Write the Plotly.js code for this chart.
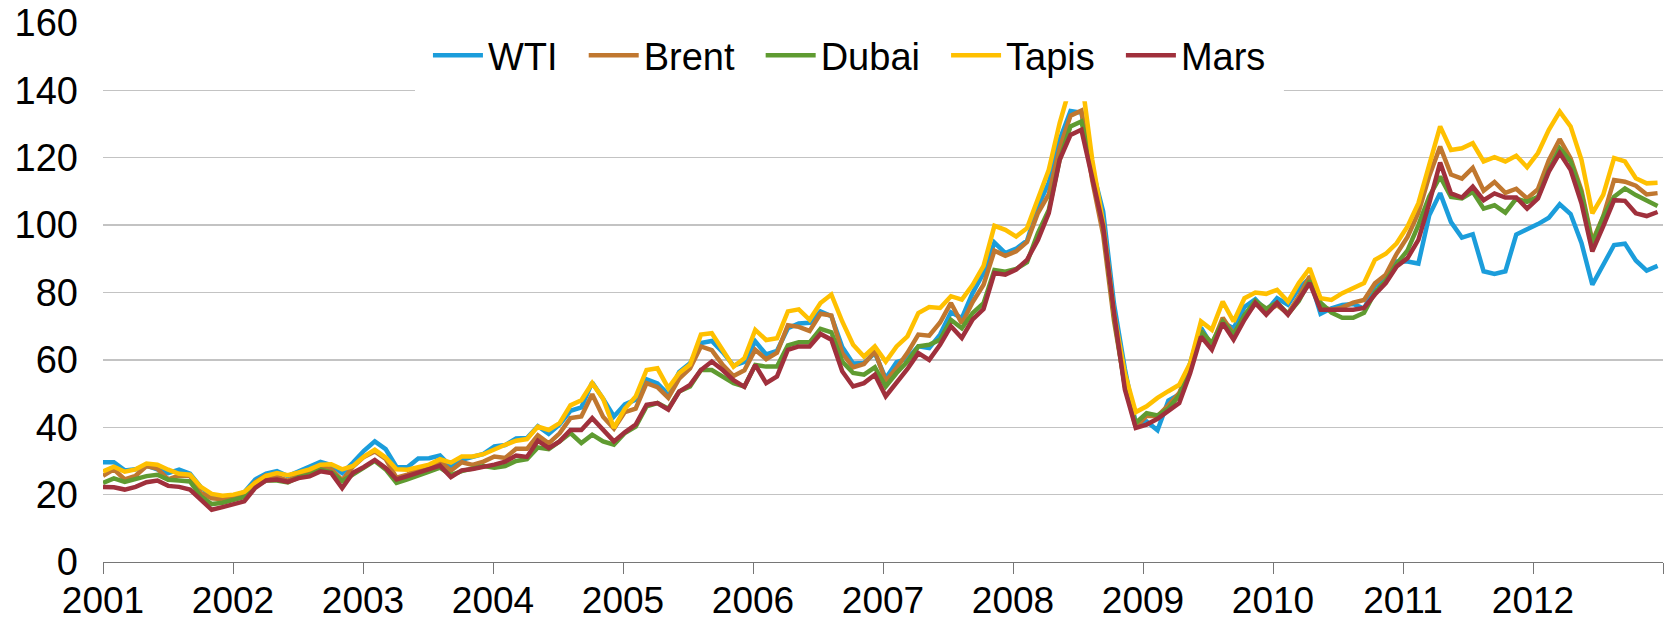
<!DOCTYPE html>
<html><head><meta charset="utf-8">
<script src="https://cdn.plot.ly/plotly-3.0.1.min.js"></script>
<style>html,body{margin:0;padding:0;background:#fff;} #chart{width:1668px;height:621px;}</style>
</head><body><div id="chart"></div>
<script>
const years = ['2001','2002','2003','2004','2005','2006','2007','2008','2009','2010','2011','2012'];
const seriesNames = ['WTI','Brent','Dubai','Tapis','Mars'];
const seriesColors = ['#1B9DDB','#C0772F','#5F9B31','#FFC000','#A0303C'];

const wti = [
29.6,29.6,27.2,27.5,28.6,27.6,26.4,27.4,26.2,22.2,19.6,19.4,
19.7,20.7,24.5,26.2,27.0,25.5,27.0,28.4,29.7,28.8,26.4,29.5,
33.0,35.8,33.5,28.2,28.1,30.7,30.8,31.6,28.3,30.3,31.1,32.1,
34.3,34.7,36.7,36.8,40.3,38.0,40.8,44.9,45.9,53.3,48.5,43.2,
46.8,48.2,54.2,53.0,49.8,56.4,59.0,65.0,65.6,62.3,58.3,59.4,
65.5,61.6,62.7,69.4,70.8,71.0,74.4,73.0,63.8,58.9,59.1,62.0,
54.5,59.3,60.4,64.0,63.5,67.5,74.1,72.4,79.9,85.8,94.8,91.7,
93.0,95.4,105.5,112.6,125.4,133.9,133.4,116.7,104.1,76.6,57.3,41.1,
41.7,39.1,47.9,49.7,59.0,69.6,64.2,71.1,69.4,75.7,78.0,74.5,
78.3,76.4,81.2,84.3,73.7,75.3,76.3,76.6,75.2,81.9,84.3,89.2,
89.2,88.6,102.9,109.5,100.9,96.3,97.3,86.3,85.5,86.3,97.2,98.6,
100.3,102.2,106.2,103.3,94.7,82.3,87.9,94.1,94.5,89.5,86.5,87.9];

const brent = [
25.6,27.5,24.5,25.6,28.5,27.7,24.5,25.7,25.5,20.5,18.9,18.6,
19.4,20.3,23.7,25.7,25.4,24.1,25.7,26.7,28.4,27.5,24.3,28.3,
31.2,32.8,30.6,25.0,25.9,27.7,28.4,29.9,27.1,29.6,28.8,29.8,
31.3,30.9,33.6,33.6,37.6,35.2,38.2,42.7,43.2,49.8,43.1,39.6,
44.5,45.5,53.1,51.9,48.7,54.4,57.5,64.0,62.9,58.5,55.2,56.9,
63.0,60.2,62.1,70.3,69.8,68.6,73.7,73.2,62.0,57.8,58.8,62.5,
53.7,57.6,62.1,67.5,67.2,71.1,76.9,70.8,77.2,82.3,92.4,90.9,
92.2,95.0,103.6,109.1,122.8,132.5,134.0,113.2,97.2,71.6,52.5,40.0,
43.4,43.3,46.5,50.2,57.3,68.6,64.4,72.5,67.7,72.8,76.7,74.5,
76.2,73.8,78.8,84.8,76.0,74.8,75.6,77.0,77.8,82.7,85.3,91.5,
96.5,103.7,114.6,123.3,115.0,113.8,117.0,110.2,112.8,109.6,110.8,107.9,
110.7,119.3,125.5,119.8,110.3,95.2,102.6,113.4,112.9,111.7,109.1,109.5];

const dubai = [
23.5,24.8,23.8,24.7,25.5,25.9,24.4,24.2,23.9,19.5,17.2,17.6,
18.3,19.3,22.5,24.2,24.2,23.6,25.2,25.9,27.4,26.6,24.0,26.0,
28.0,30.0,27.5,23.5,24.5,25.5,26.8,28.0,25.8,27.0,27.8,28.5,
28.0,28.5,30.0,30.5,34.0,33.5,35.8,38.3,35.3,37.8,35.8,34.8,
38.3,40.2,46.2,47.2,45.5,50.6,52.1,57.0,57.0,55.0,53.1,52.1,
58.5,58.0,58.0,64.3,65.2,65.2,69.2,68.2,59.5,56.1,55.6,57.8,
52.1,56.1,59.5,64.0,64.5,66.0,71.9,69.4,73.9,76.8,86.7,86.2,
87.0,89.0,97.6,104.5,119.4,129.3,130.8,117.4,99.6,72.9,52.1,41.3,
44.2,43.5,45.5,49.5,56.8,68.5,65.0,71.3,67.5,73.3,77.5,75.2,
77.0,73.6,77.5,83.5,77.0,74.0,72.5,72.5,74.0,80.0,83.5,88.5,
92.5,100.0,108.5,114.4,108.4,107.9,109.9,104.9,105.9,103.7,107.9,106.9,
108.4,116.4,122.8,118.9,109.4,94.6,102.5,108.4,110.9,108.9,107.4,105.7];

const tapis = [
26.9,28.3,26.8,27.5,29.2,28.9,27.4,26.2,25.9,22.3,20.2,19.7,
20.0,20.8,23.5,25.6,26.4,25.8,26.6,27.5,28.9,29.0,27.5,28.5,
31.3,33.3,31.0,27.5,27.4,28.2,28.9,30.5,29.5,31.3,31.3,32.0,
33.5,34.8,36.0,36.5,40.2,39.2,41.2,46.5,48.0,53.1,48.5,39.8,
45.5,49.1,57.0,57.5,51.6,56.1,58.6,67.5,67.9,63.0,58.0,60.5,
68.9,65.9,66.4,74.4,75.0,71.9,76.9,79.4,71.4,64.5,61.0,64.0,
59.5,64.0,67.0,73.9,75.7,75.4,78.9,77.9,82.3,87.9,99.8,98.6,
96.6,99.1,107.5,116.4,130.3,141.5,144.0,119.4,100.6,73.9,56.0,44.5,
46.2,48.7,50.7,52.6,59.0,71.4,68.9,77.3,71.4,78.3,80.0,79.6,
80.8,77.3,82.8,87.2,78.3,77.8,79.8,81.3,82.8,89.7,91.5,94.6,
99.6,106.5,118.4,129.3,122.3,122.8,124.3,118.9,120.2,118.9,120.6,117.2,
121.4,128.3,133.7,129.3,119.4,103.5,109.0,119.9,118.9,113.9,112.4,112.6];

const mars = [
22.3,22.2,21.5,22.3,23.7,24.2,22.6,22.3,21.5,18.5,15.5,16.3,
17.0,18.0,22.0,24.2,24.5,23.8,24.9,25.4,26.9,26.4,21.9,26.5,
28.2,30.3,27.9,24.5,25.5,26.6,27.4,28.6,25.2,27.2,27.6,28.2,
28.9,29.8,31.6,31.2,36.0,33.8,35.8,39.2,39.2,42.7,39.2,35.8,
38.5,40.8,46.7,47.2,45.2,50.6,52.6,57.0,59.5,57.0,54.0,52.0,
58.5,53.1,55.1,63.0,64.0,64.0,67.7,66.0,56.6,52.1,53.1,55.6,
49.2,53.1,57.3,62.0,60.0,64.5,70.0,66.5,72.0,75.1,85.8,85.3,
86.8,89.7,95.6,103.6,119.4,126.8,128.3,114.0,99.6,73.9,51.2,39.8,
40.8,42.5,44.7,47.2,56.0,66.9,63.0,70.9,66.0,71.9,76.9,73.4,
76.9,73.4,77.9,82.8,74.9,74.9,74.9,74.9,75.4,79.4,82.8,87.7,
90.2,95.6,106.5,118.6,109.4,108.2,111.4,107.4,109.4,108.2,108.2,104.9,
107.9,115.9,121.4,116.4,106.5,92.2,99.6,107.4,107.2,103.5,102.7,103.9];

const yTicks = [0,20,40,60,80,100,120,140,160];

const seriesValues = [wti, brent, dubai, tapis, mars];
const monthIndex = wti.map((_, i) => i);
const xMax = 143.5;
const xTickVals = years.map((_, k) => k * xMax / 12).concat([xMax]);
const xTickText = years.concat(['']);

const traces = seriesNames.map((name, k) => ({
  type: 'scatter', mode: 'lines', name: name + '\u00a0\u00a0',
  x: monthIndex, y: seriesValues[k],
  line: {color: seriesColors[k], width: 4.5},
  hoverinfo: 'skip'
}));

const layout = {
  width: 1668, height: 621,
  margin: {l: 103, r: 5, t: 23, b: 59, pad: 0},
  paper_bgcolor: '#ffffff', plot_bgcolor: '#ffffff',
  font: {family: '"Liberation Sans", Arial, sans-serif', color: '#000000', size: 36},
  showlegend: true,
  xaxis: {
    range: [0, xMax], tickmode: 'array', tickvals: xTickVals, ticktext: xTickText,
    ticks: 'outside', ticklen: 11, tickwidth: 1, tickcolor: '#767676',
    showline: true, linecolor: '#767676', linewidth: 1,
    showgrid: false, zeroline: false, tickfont: {size: 37},
    ticklabelstandoff: -5, fixedrange: true
  },
  yaxis: {
    range: [0, 160], tickmode: 'array', tickvals: yTicks,
    showgrid: true, gridcolor: '#C3C3C3', gridwidth: 1.3,
    zeroline: false, showline: false, ticks: '', tickfont: {size: 38},
    ticklabelstandoff: 24, fixedrange: true
  },
  legend: {
    orientation: 'h', x: 0.2083, y: 0.998, xanchor: 'left', yanchor: 'top',
    bgcolor: '#ffffff', borderwidth: 0, font: {size: 38}, itemwidth: 50,
    traceorder: 'normal'
  },
  shapes: [{
    type: 'rect', xref: 'paper', yref: 'paper', layer: 'above',
    x0: 0.2, x1: 0.757, y0: 0.855, y1: 0.9,
    fillcolor: '#ffffff', line: {width: 0}
  }]
};

Plotly.newPlot('chart', traces, layout, {displayModeBar: false, staticPlot: true});
</script>
</body></html>
